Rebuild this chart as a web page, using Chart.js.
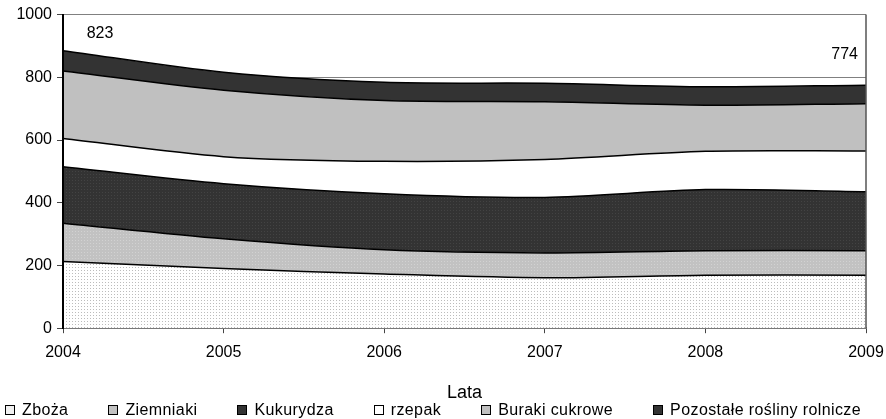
<!DOCTYPE html>
<html>
<head>
<meta charset="utf-8">
<script src="https://cdn.jsdelivr.net/npm/chart.js@4.4.1/dist/chart.umd.min.js"></script>
<style>
  html, body { margin: 0; padding: 0; background: #fff; }
  #wrap { position: relative; width: 886px; height: 419px; }
  #legend {
    position: absolute; left: 0; top: 400px; width: 866px; margin: 0; padding: 0;
    display: flex; justify-content: center;
    font: 16px "Liberation Sans", Arial, sans-serif; letter-spacing: 0.4px; line-height: 19px; color: #000;
  }
  #legend li { display: flex; align-items: center; margin: 0 20px; list-style: none; white-space: nowrap; }
  #legend .box { width: 8px; height: 8px; border: 1px solid #000; margin-right: 7px; }
</style>
</head>
<body>
<div id="wrap">
  <canvas id="chart" width="886" height="419"></canvas>
  <ul id="legend"></ul>
</div>
<script>
const years        = ["2004", "2005", "2006", "2007", "2008", "2009"];
const seriesNames  = ["Zboża", "Ziemniaki", "Kukurydza", "rzepak", "Buraki cukrowe", "Pozostałe rośliny rolnicze"];
const zboza        = [213, 190, 173, 161, 169, 169];
const ziemniaki    = [122, 95, 77, 79, 78, 78];
const kukurydza    = [180, 176, 179, 177, 195, 188];
const rzepak       = [90, 86, 103, 121, 122, 130];
const buraki       = [215, 212, 194, 184, 147, 151];
const pozostale    = [65, 57, 58, 59, 59, 59];
const yTicks       = [0, 200, 400, 600, 800, 1000];
const totalLabels  = ["823", "774"];
const axisTitle    = "Lata";

const FONT = '"Liberation Sans", Arial, sans-serif';
Chart.defaults.font.family = FONT;
Chart.defaults.color = "#000";

// small dotted fills like the excel pattern areas
function dots(bg, dot, step) {
  const c = document.createElement("canvas");
  c.width = c.height = step;
  const g = c.getContext("2d");
  g.fillStyle = bg; g.fillRect(0, 0, step, step);
  g.fillStyle = dot; g.fillRect(0, 0, 1, 1);
  return g.createPattern(c, "repeat");
}

const fills = [
  dots("#ffffff", "#bcbcbc", 3),
  dots("#c2c2c2", "#d2d2d2", 3),
  dots("#333333", "#434343", 3),
  "#ffffff",
  "#c0c0c0",
  "#333333",
];
const legendCss = ["#f0f0f0", "#c2c2c2", "#333333", "#ffffff", "#c0c0c0", "#333333"];
const values = [zboza, ziemniaki, kukurydza, rzepak, buraki, pozostale];

const datasets = values.map((v, i) => ({
  label: seriesNames[i],
  data: v,
  backgroundColor: fills[i],
  borderColor: "#000",
  borderWidth: 1.5,
  pointRadius: 0,
  tension: 0.3,
  fill: i === 0 ? "origin" : "-1",
}));

// axis lines on top of the filled areas + the two total labels
const frame = {
  id: "frame",
  afterDatasetsDraw(chart) {
    const { ctx, chartArea: a } = chart;
    ctx.save();
    ctx.strokeStyle = "#000"; ctx.lineWidth = 2;
    ctx.beginPath(); ctx.moveTo(a.left, a.top); ctx.lineTo(a.left, a.bottom); ctx.stroke();
    ctx.strokeStyle = "#555"; ctx.lineWidth = 1.5;
    ctx.beginPath(); ctx.moveTo(a.right, a.top); ctx.lineTo(a.right, a.bottom); ctx.stroke();
    ctx.restore();
  },
  afterDraw(chart) {
    const { ctx, chartArea: a } = chart;
    ctx.save();
    ctx.font = "16px " + FONT;
    ctx.fillStyle = "#000";
    ctx.textBaseline = "middle";
    ctx.textAlign = "center";
    ctx.fillText(totalLabels[0], a.left + 37, a.top + 19);
    ctx.textAlign = "right";
    ctx.fillText(totalLabels[1], a.right - 8, a.top + 40);
    ctx.restore();
  },
};

new Chart(document.getElementById("chart"), {
  type: "line",
  data: { labels: years, datasets },
  plugins: [frame],
  options: {
    responsive: false,
    animation: false,
    layout: { padding: { top: 6, right: 0, bottom: 15, left: 0 } },
    plugins: { legend: { display: false }, tooltip: { enabled: false } },
    scales: {
      x: {
        offset: false,
        afterFit: s => { s.paddingRight = 20; },
        grid: { color: "rgba(0,0,0,0)", tickColor: "#444", tickLength: 5 },
        border: { color: "#777", width: 2 },
        ticks: { font: { size: 16 }, padding: 10, maxRotation: 0, autoSkip: false },
        title: { display: true, text: axisTitle, font: { size: 18 }, padding: { top: 10, bottom: 0 } },
      },
      y: {
        stacked: true, min: 0, max: 1000,
        afterBuildTicks: s => { s.ticks = yTicks.map(v => ({ value: v })); },
        afterFit: s => { s.width = 63; },
        grid: { color: "#808080", tickColor: "#444", tickLength: 6 },
        border: { color: "#000", width: 2 },
        ticks: { font: { size: 16 }, padding: 5, callback: v => String(v) },
      },
    },
  },
});

document.getElementById("legend").innerHTML = seriesNames.map((n, i) =>
  `<li><span class="box" style="background:${legendCss[i]}"></span>${n}</li>`).join("");
</script>
</body>
</html>
